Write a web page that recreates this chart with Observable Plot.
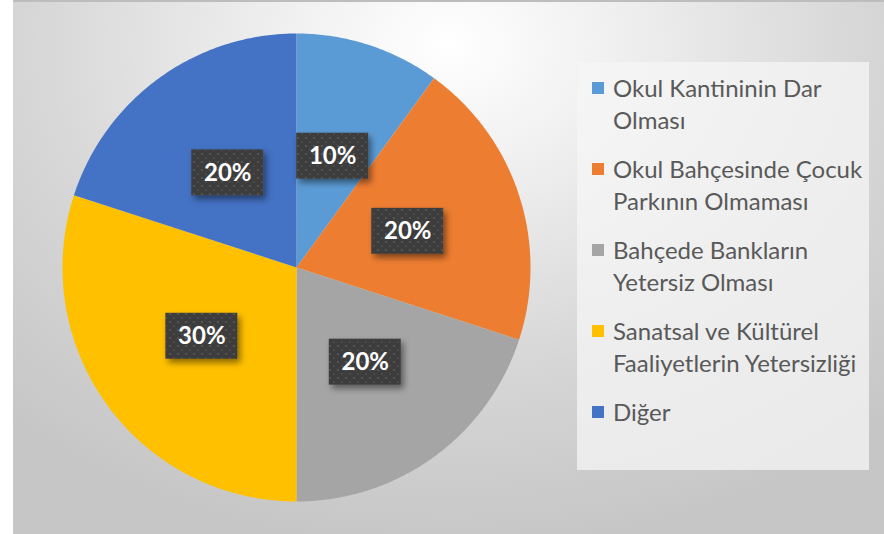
<!DOCTYPE html>
<html>
<head>
<meta charset="utf-8">
<script src="https://cdn.jsdelivr.net/npm/d3@7"></script>
<script src="https://cdn.jsdelivr.net/npm/@observablehq/plot@0.6"></script>
<style>
  html, body { margin: 0; padding: 0; background: #ffffff; }
  #wrap { position: relative; width: 884px; height: 534px; overflow: hidden; }
  #bg {
    position: absolute; left: 13px; top: 0; width: 871px; height: 534px;
    box-sizing: border-box; border-top: 2px solid #bdbdbd;
    background: radial-gradient(ellipse 75% 95% at 50% 8%, #ffffff 0%, #f0f0f0 25%, #d6d6d6 65%, #c6c6c6 100%);
  }
  #chart { position: absolute; left: 0; top: 0; }
  #legend {
    position: absolute; left: 577px; top: 62px; width: 292px; height: 408px;
    box-sizing: border-box; padding: 10px 0 0 15px;
    background: rgba(245, 245, 245, 0.75);
    font-family: Lato, "Open Sans", sans-serif; font-size: 24px; color: #595959;
  }
  .item { position: relative; padding-left: 21px; margin-bottom: 17px; line-height: 32px; white-space: nowrap; }
  .sw { position: absolute; left: 0; top: 10px; width: 12px; height: 12px; }
</style>
</head>
<body>
<div id="wrap">
  <div id="bg"></div>
  <div id="chart"></div>
  <div id="legend"></div>
</div>
<script>
// ---- data ----
const categories = [
  "Okul Kantininin Dar Olması",
  "Okul Bahçesinde Çocuk Parkının Olmaması",
  "Bahçede Bankların Yetersiz Olması",
  "Sanatsal ve Kültürel Faaliyetlerin Yetersizliği",
  "Diğer"
];
const legendLines = [
  ["Okul Kantininin Dar", "Olması"],
  ["Okul Bahçesinde Çocuk", "Parkının Olmaması"],
  ["Bahçede Bankların", "Yetersiz Olması"],
  ["Sanatsal ve Kültürel", "Faaliyetlerin Yetersizliği"],
  ["Diğer"]
];
const values = [10, 20, 20, 30, 20];
const valueLabels = ["10%", "20%", "20%", "30%", "20%"];
const colors = ["#5B9BD5", "#ED7D31", "#A5A5A5", "#FFC000", "#4472C4"];

// ---- pie geometry from data ----
const arcs = d3.pie().sort(null).value(d => d)(values);
const sliceMarks = arcs.map((a, i) => {
  const steps = Math.max(2, Math.ceil((a.endAngle - a.startAngle) / 0.01));
  const pts = [{x: 0, y: 0}];
  for (let s = 0; s <= steps; s++) {
    const t = a.startAngle + (a.endAngle - a.startAngle) * s / steps;
    pts.push({x: Math.sin(t), y: Math.cos(t)});
  }
  return Plot.line(pts, {x: "x", y: "y", fill: colors[i], stroke: "none", curve: "linear-closed"});
});
const labelData = arcs.map((a, i) => {
  const m = (a.startAngle + a.endAngle) / 2;
  return {x: 0.5 * Math.sin(m), y: 0.5 * Math.cos(m), text: valueLabels[i]};
});

const svg = Plot.plot({
  width: 884,
  height: 534,
  marginLeft: 62,
  marginRight: 354,
  marginTop: 33,
  marginBottom: 33,
  x: {domain: [-1, 1], axis: null},
  y: {domain: [-1, 1], axis: null},
  style: {background: "transparent", overflow: "visible"},
  marks: [
    ...sliceMarks,
    Plot.rect(labelData, {
      x1: "x", x2: "x", y1: "y", y2: "y",
      insetLeft: -36, insetRight: -36, insetTop: -23, insetBottom: -23,
      fill: "#404040", className: "lblbox"
    }),
    Plot.text(labelData, {
      x: "x", y: "y", text: "text", fill: "white",
      fontSize: 24, fontWeight: "bold", fontFamily: "Lato, 'Open Sans', sans-serif"
    })
  ]
});

// pattern + shadow defs
const defs = d3.select(svg).insert("defs", ":first-child");
const pat = defs.append("pattern").attr("id", "dots").attr("width", 8).attr("height", 8)
  .attr("patternUnits", "userSpaceOnUse");
pat.append("rect").attr("width", 8).attr("height", 8).attr("fill", "#3e3e3e");
pat.append("circle").attr("cx", 2).attr("cy", 2).attr("r", 1.1).attr("fill", "#575757");
pat.append("circle").attr("cx", 6).attr("cy", 6).attr("r", 0.9).attr("fill", "#4d4d4d");
const flt = defs.append("filter").attr("id", "shadow").attr("x", "-30%").attr("y", "-30%")
  .attr("width", "160%").attr("height", "160%");
flt.append("feDropShadow").attr("dx", 3).attr("dy", 4).attr("stdDeviation", 3)
  .attr("flood-color", "#000").attr("flood-opacity", 0.45);
d3.select(svg).selectAll("g.lblbox rect, .lblbox rect").attr("fill", "url(#dots)").attr("filter", "url(#shadow)");

document.getElementById("chart").appendChild(svg);

// ---- legend ----
const legend = d3.select("#legend");
categories.forEach((c, i) => {
  const it = legend.append("div").attr("class", "item").attr("title", c);
  it.append("div").attr("class", "sw").style("background", colors[i]);
  legendLines[i].forEach(l => it.append("div").text(l));
});
</script>
</body>
</html>
